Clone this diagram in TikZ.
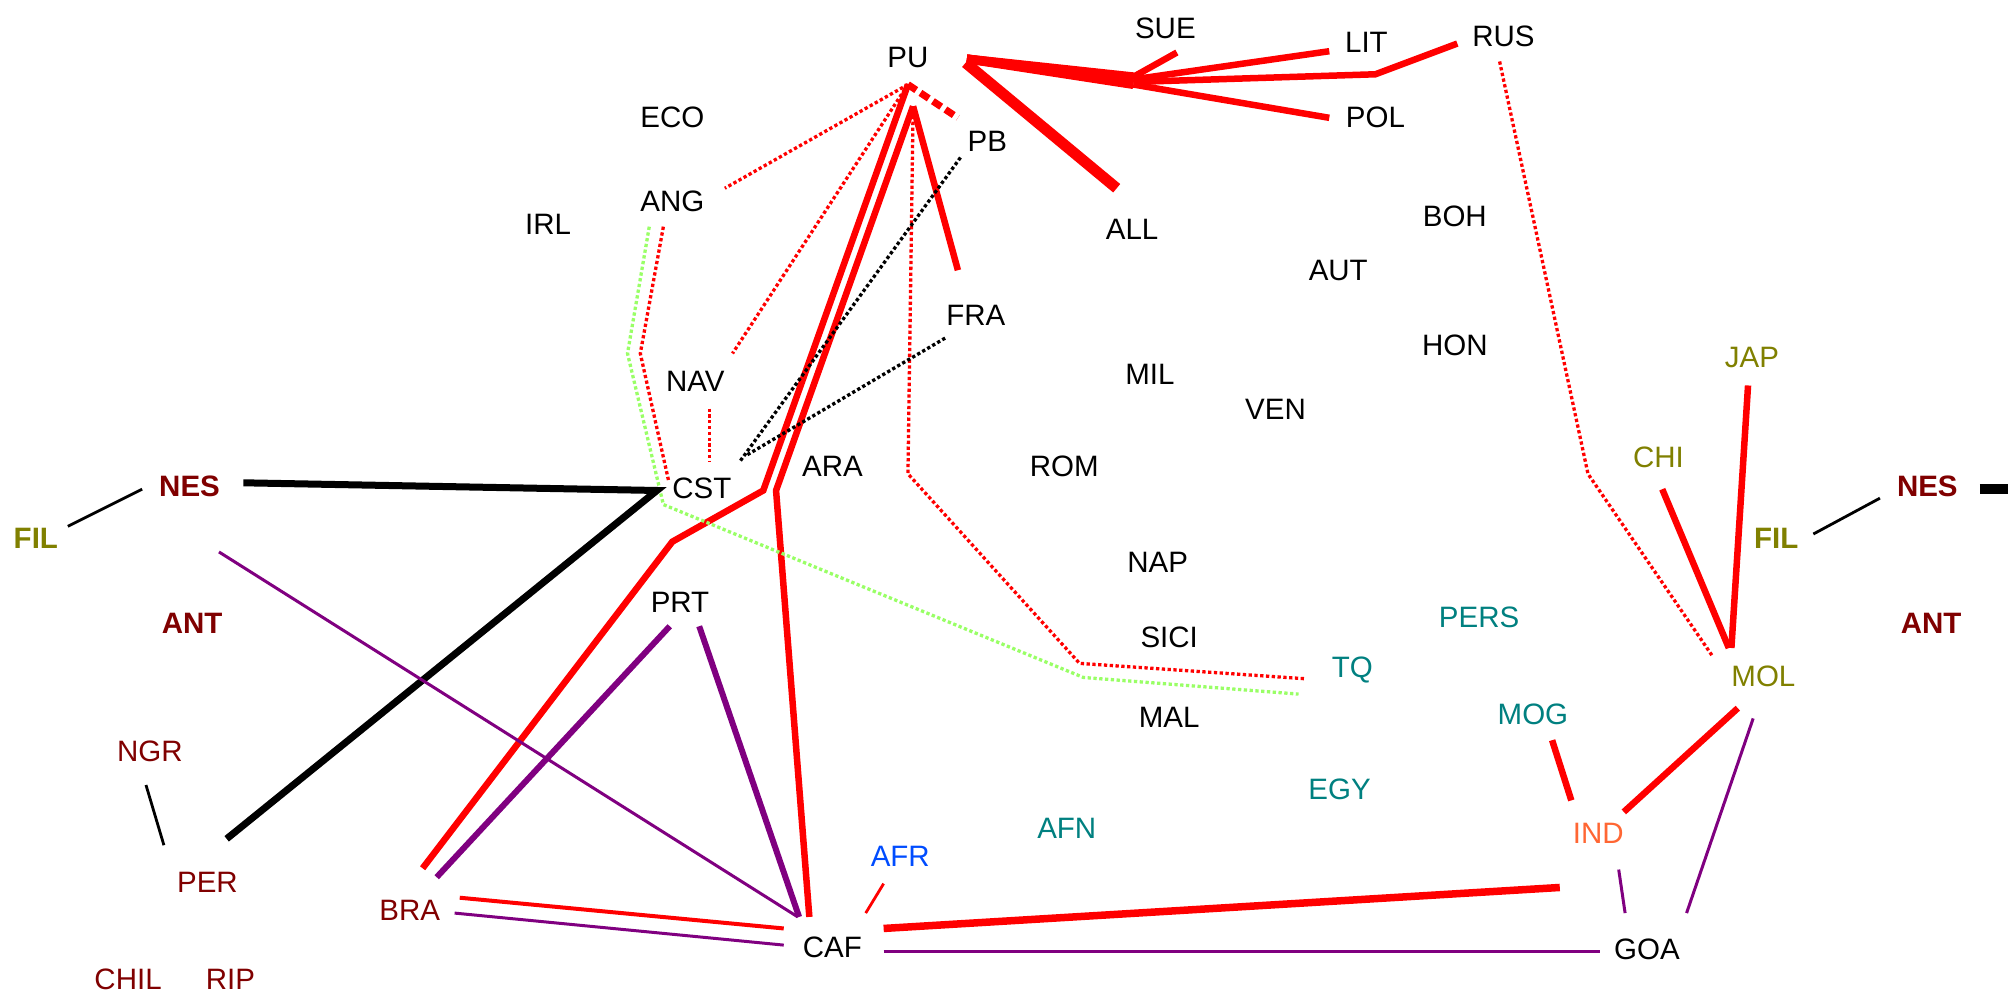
\documentclass[tikz,border=0pt]{standalone}
\usepackage{fontspec}
\setmainfont{Liberation Sans}
\definecolor{dred}{RGB}{128,0,0}
\definecolor{olv}{RGB}{128,128,0}
\definecolor{tl}{RGB}{0,128,128}
\definecolor{afb}{RGB}{0,76,255}
\definecolor{ind}{RGB}{255,102,51}
\definecolor{lgr}{RGB}{153,255,102}
\definecolor{prp}{RGB}{128,0,128}
\begin{document}
\begin{tikzpicture}[x=1.2806pt,y=-1.2806pt,
  lbl/.style={font=\fontsize{29.5}{32}\selectfont, inner sep=0pt, anchor=center},
  dr/.style={lbl, text=dred}, ol/.style={lbl, text=olv}, te/.style={lbl, text=tl},
  bf/.style={font=\fontsize{29.5}{32}\selectfont\bfseries},
  con/.style={line cap=butt, line join=miter},
  redA/.style={con, draw=red, line width=6.5pt},
  redB/.style={con, draw=red, line width=4pt},
  redC/.style={con, draw=red, line width=2.8pt},
  trunk/.style={con, draw=red, line width=9pt},
  purA/.style={con, draw=prp, line width=6pt},
  purB/.style={con, draw=prp, line width=3pt},
  blkA/.style={con, draw=black, line width=7pt},
  blkB/.style={con, draw=black, line width=2.8pt},
  dotr/.style={draw=red, line width=3.3pt, dash pattern=on 3.3pt off 2.5pt},
  dotg/.style={draw=lgr, line width=3.3pt, dash pattern=on 3.3pt off 2.5pt},
  dotk/.style={draw=black, line width=3.3pt, dash pattern=on 3.3pt off 2.5pt},
  dashr/.style={draw=red, line width=7pt, dash pattern=on 10pt off 5pt}]
\useasboundingbox (0,0) rectangle (1568,776);
% labels
\node[lbl] (PU) at (709,45) {PU};
\node[lbl] (SUE) at (910,22) {SUE};
\node[lbl] (LIT) at (1067,33) {LIT};
\node[lbl] (RUS) at (1174,28) {RUS};
\node[lbl] (ECO) at (525,92) {ECO};
\node[lbl] (POL) at (1074,92) {POL};
\node[lbl] (PB) at (771,110) {PB};
\node[lbl] (ANG) at (525,157) {ANG};
\node[lbl] (IRL) at (428,175) {IRL};
\node[lbl] (ALL) at (884,179) {ALL};
\node[lbl] (BOH) at (1136,169) {BOH};
\node[lbl] (AUT) at (1045,211) {AUT};
\node[lbl] (FRA) at (762,246) {FRA};
\node[lbl] (HON) at (1136,270) {HON};
\node[ol] (JAP) at (1368,279) {JAP};
\node[lbl] (NAV) at (543,298) {NAV};
\node[lbl] (MIL) at (898,292) {MIL};
\node[lbl] (VEN) at (996,320) {VEN};
\node[ol] (CHI) at (1295,357) {CHI};
\node[dr, bf] (NESa) at (148,380) {NES};
\node[lbl] (CST) at (548,381) {CST};
\node[lbl] (ARA) at (650,364) {ARA};
\node[lbl] (ROM) at (831,364) {ROM};
\node[dr, bf] (NESb) at (1505,380) {NES};
\node[ol, bf] (FILa) at (28,420) {FIL};
\node[ol, bf] (FILb) at (1387,420) {FIL};
\node[lbl] (NAP) at (904,439) {NAP};
\node[lbl] (PRT) at (531,470) {PRT};
\node[dr, bf] (ANTa) at (150,487) {ANT};
\node[dr, bf] (ANTb) at (1508,487) {ANT};
\node[te] (PERS) at (1155,482) {PERS};
\node[lbl] (SICI) at (913,498) {SICI};
\node[te] (TQ) at (1056,523) {TQ};
\node[ol] (MOL) at (1377,528) {MOL};
\node[lbl] (MAL) at (913,560) {MAL};
\node[te] (MOG) at (1197,558) {MOG};
\node[dr] (NGR) at (117,587) {NGR};
\node[te] (EGY) at (1046,616) {EGY};
\node[te] (AFN) at (833,647) {AFN};
\node[lbl, text=ind] (IND) at (1248,651) {IND};
\node[lbl, text=afb] (AFR) at (703,669) {AFR};
\node[dr] (PER) at (162,689) {PER};
\node[dr] (BRA) at (320,711) {BRA};
\node[lbl] (CAF) at (650,740) {CAF};
\node[lbl] (GOA) at (1286,741) {GOA};
\node[dr] (CHIL) at (100,765) {CHIL};
\node[dr] (RIP) at (180,765) {RIP};
% connector end points
\coordinate (PUe) at (755,46);
\coordinate (PUs) at (709,66);
\coordinate (PUt) at (713,83);
\coordinate (J1) at (885,60);
\coordinate (J2) at (885,62);
\coordinate (J3) at (885,64);
\coordinate (J4) at (885,66);
% PU to the north-east
\draw[trunk] (PUe) -- (J1); \draw[trunk] (PUe) -- (J2);
\draw[trunk] (PUe) -- (J3); \draw[trunk] (PUe) -- (J4);
\draw[redA] (J1) -- (919,41);
\draw[redA] (J2) -- (1038,40);
\draw[redA, line join=miter] (J3) -- (1074,58) -- (1138,34);
\draw[redA] (J4) -- (1038,92);
\draw[con, draw=red, line width=11pt] (754,49) -- (872,147);
% PU downwards
\draw[dashr] (PUs) -- (748,92);
\draw[redA] (PUs) -- (596,383) -- (525,423) -- (330,678);
\draw[redA] (PUt) -- (606,383) -- (632,716);
\draw[redA] (PUt) -- (748,211);
\draw[dotr] (PUs) -- (566,147);
\draw[dotr] (PUs) -- (572,276);
\draw[dotr] (713,86) -- (709,370) -- (843,518) -- (1019,530);
\draw[dotr] (518,177) -- (500,276) -- (522,375);
\draw[dotg] (507,177) -- (490,276) -- (518,394) -- (846,529) -- (1014,542);
\draw[dotr] (554,319) -- (554,360);
\draw[dotk] (750,123) -- (578,360);
\draw[dotk] (738,264) -- (582,356);
% black
\draw[blkA] (190,377) -- (513,383) -- (177,655);
\draw[blkB] (53,411) -- (111,382);
\draw[blkB] (114,613) -- (128,660);
\draw[blkB] (1416,417) -- (1468,389);
\draw[con, draw=black, line width=10pt] (1546,382) -- (1568,382);
% purple
\draw[purB] (171,431) -- (623,716);
\draw[purA] (523,489) -- (341,685);
\draw[purA] (546,489) -- (624,716);
\draw[purB] (355,713) -- (612,738);
\draw[purB] (690,743) -- (1249,743);
\draw[purB] (1369,561) -- (1317,713);
\draw[purB] (1264,679) -- (1269,713);
% red lower
\draw[redB] (359,701) -- (612,725);
\draw[redC] (690,690) -- (676,713);
\draw[con, draw=red, line width=7.5pt] (690,725) -- (1218,693);
\draw[redA] (1212,578) -- (1227,625);
\draw[redA] (1268,634) -- (1357,553);
\draw[redA] (1365,301) -- (1352,506);
\draw[redA] (1298,382) -- (1350,506);
\draw[dotr] (1171,48) -- (1240,370) -- (1337,512);
\end{tikzpicture}
\end{document}
